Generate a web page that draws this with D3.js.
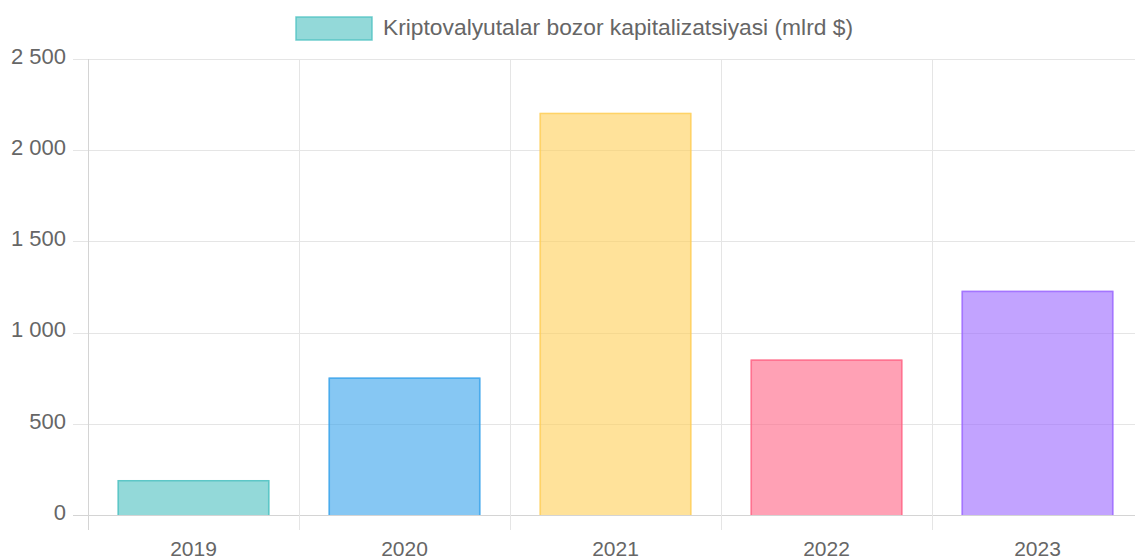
<!DOCTYPE html>
<html>
<head>
<meta charset="utf-8">
<script src="https://cdn.jsdelivr.net/npm/d3@7"></script>
<style>
  html, body { margin: 0; padding: 0; background: #fff; }
  svg { display: block; font-family: "Liberation Sans", Arial, Helvetica, sans-serif; }
</style>
</head>
<body>
<div id="chart"></div>
<script>
// chart data
const years = ['2019', '2020', '2021', '2022', '2023'];
const capValues = [192, 754, 2205, 853, 1230];
const barColors = ['75,192,192', '54,162,235', '255,206,86', '255,99,132', '153,102,255'];
const yTicks = [0, 500, 1000, 1500, 2000, 2500];
const legendLabel = 'Kriptovalyutalar bozor kapitalizatsiyasi (mlrd $)';

const width = 1135, height = 558;
const plotLeft = 88, plotRight = 1143, plotTop = 59, plotBottom = 515;

const svg = d3.select('#chart').append('svg')
  .attr('width', width)
  .attr('height', height);

const x = d3.scaleBand().domain(years).range([plotLeft, plotRight]).paddingInner(0).paddingOuter(0);
const y = d3.scaleLinear().domain([0, 2500]).range([plotBottom, plotTop]);

// number format with space as thousands separator
const fmt = d3.formatLocale({ decimal: ',', thousands: '\u00a0', grouping: [3], currency: ['', ''] }).format(',d');

// horizontal grid lines (with tick stubs on the left)
svg.append('g').selectAll('line')
  .data(yTicks)
  .join('line')
  .attr('x1', plotLeft - 15)
  .attr('x2', plotRight)
  .attr('y1', d => Math.round(y(d)) + 0.5)
  .attr('y2', d => Math.round(y(d)) + 0.5)
  .attr('stroke', d => d === 0 ? '#d4d4d4' : '#e5e5e5')
  .attr('stroke-width', 1);

// vertical grid lines (with tick stubs below)
const xLines = years.map(d => x(d));
svg.append('g').selectAll('line')
  .data(xLines)
  .join('line')
  .attr('x1', d => Math.round(d) + 0.5)
  .attr('x2', d => Math.round(d) + 0.5)
  .attr('y1', plotTop)
  .attr('y2', plotBottom + 15)
  .attr('stroke', (d, i) => i === 0 ? '#d4d4d4' : '#e5e5e5')
  .attr('stroke-width', 1);

// y tick labels
svg.append('g').selectAll('text')
  .data(yTicks)
  .join('text')
  .attr('x', plotLeft - 22)
  .attr('y', d => y(d) - 1)
  .attr('text-anchor', 'end')
  .attr('dominant-baseline', 'middle')
  .attr('fill', '#666')
  .style('font-size', '22px')
  .text(d => fmt(d));

// x tick labels
svg.append('g').selectAll('text')
  .data(years)
  .join('text')
  .attr('x', d => x(d) + x.bandwidth() / 2)
  .attr('y', plotBottom + 41)
  .attr('text-anchor', 'middle')
  .attr('fill', '#666')
  .style('font-size', '21px')
  .text(d => d);

// bars
const barW = x.bandwidth() * 0.72;
const bw = 1.5;
const bars = svg.append('g').selectAll('g')
  .data(years.map((d, i) => ({ year: d, value: capValues[i], color: barColors[i] })))
  .join('g');

bars.append('rect')
  .attr('x', d => x(d.year) + (x.bandwidth() - barW) / 2)
  .attr('y', d => y(d.value))
  .attr('width', barW)
  .attr('height', d => y(0) - y(d.value))
  .attr('fill', d => `rgba(${d.color},0.6)`);

// border drawn inside the bar, bottom edge skipped
bars.append('path')
  .attr('d', d => {
    const x0 = x(d.year) + (x.bandwidth() - barW) / 2 + bw / 2;
    const x1 = x0 + barW - bw;
    const yt = y(d.value) + bw / 2;
    return `M${x0},${y(0)}V${yt}H${x1}V${y(0)}`;
  })
  .attr('fill', 'none')
  .attr('stroke', d => `rgba(${d.color},0.75)`)
  .attr('stroke-width', bw);

// legend
const legend = svg.append('g');
legend.append('rect')
  .attr('x', 296)
  .attr('y', 17)
  .attr('width', 76)
  .attr('height', 23)
  .attr('fill', `rgba(${barColors[0]},0.6)`)
  .attr('stroke', `rgba(${barColors[0]},0.8)`)
  .attr('stroke-width', 1.5);
legend.append('text')
  .attr('x', 383)
  .attr('y', 29)
  .attr('dominant-baseline', 'middle')
  .attr('fill', '#666')
  .style('font-size', '22.8px')
  .text(legendLabel);
</script>
</body>
</html>
